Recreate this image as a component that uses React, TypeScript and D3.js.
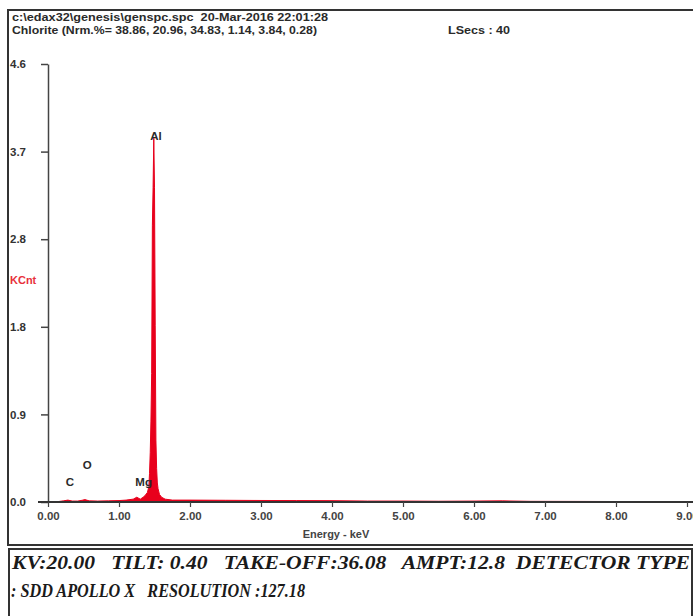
import { useEffect, useRef } from "react";
import * as d3 from "d3";

// spectrum (energy in keV, counts in KCnt)
const energies = [
    0.05, 0.15, 0.22, 0.28, 0.34, 0.42, 0.48, 0.52, 0.58, 0.7, 0.85, 1.0, 1.1, 1.2, 1.25, 1.3,
    1.34, 1.37, 1.4, 1.42, 1.43, 1.44, 1.45, 1.46, 1.47, 1.48, 1.49, 1.5, 1.51, 1.52, 1.53,
    1.54, 1.55, 1.57, 1.6, 1.65, 1.75, 2.0, 2.5, 3.0, 3.5, 4.0, 4.5, 5.0, 5.5, 6.0, 6.4, 6.8,
    7.5, 8.0, 8.5, 9.0,
];
const counts = [
    0.0, 0.005, 0.012, 0.02, 0.01, 0.01, 0.018, 0.025, 0.012, 0.01, 0.012, 0.015, 0.02,
    0.03, 0.05, 0.03, 0.05, 0.07, 0.1, 0.16, 0.3, 0.52, 0.85, 1.35, 2.9, 3.3, 3.82, 3.3, 1.85,
    0.65, 0.35, 0.2, 0.14, 0.08, 0.05, 0.03, 0.02, 0.02, 0.018, 0.016, 0.015, 0.014, 0.01,
    0.01, 0.008, 0.01, 0.012, 0.007, 0.006, 0.005, 0.004, 0.003,
];

const elementNames = ["C", "O", "Mg", "Al"];
const elementEnergies = [0.25, 0.49, 1.23, 1.44];
const elementHeights = [0.17, 0.35, 0.17, 3.8];

const yTicks = [0, 0.92, 1.84, 2.76, 3.68, 4.6];
const xTicks = [0, 1, 2, 3, 4, 5, 6, 7, 8, 9];

const headerLine1 = "c:\\edax32\\genesis\\genspc.spc  20-Mar-2016 22:01:28";
const headerLine2 = "Chlorite (Nrm.%= 38.86, 20.96, 34.83, 1.14, 3.84, 0.28)";
const lsecs = "LSecs : 40";
const infoLine1 = "KV:20.00   TILT: 0.40   TAKE-OFF:36.08   AMPT:12.8  DETECTOR TYPE";
const infoLine2 = ": SDD APOLLO X   RESOLUTION :127.18";

const sans = "Arial, 'Liberation Sans', sans-serif";

function App() {
    const svgRef = useRef();

    useEffect(() => {
        const Width = 693;
        const svg = d3.select(svgRef.current);
        svg.selectAll("*").remove();

        const xScale = d3.scaleLinear().domain([0, 9]).range([48, 687]);
        const yScale = d3.scaleLinear().domain([0, 4.6]).range([502, 64]);

        // frames
        svg.append("rect")
            .attr("x", 8).attr("y", 10)
            .attr("width", Width).attr("height", 535)
            .attr("fill", "white").attr("stroke", "#333").attr("stroke-width", 2);
        svg.append("rect")
            .attr("x", 9).attr("y", 549)
            .attr("width", 683).attr("height", 80)
            .attr("fill", "white").attr("stroke", "#333").attr("stroke-width", 2);

        // header texts
        const head = svg.append("g")
            .style("font-family", sans)
            .style("font-weight", "bold")
            .style("font-size", "11px")
            .attr("fill", "#2a2a2a");
        head.append("text").attr("x", 12).attr("y", 21)
            .attr("xml:space", "preserve")
            .attr("textLength", 316).attr("lengthAdjust", "spacingAndGlyphs")
            .text(headerLine1);
        head.append("text").attr("x", 12).attr("y", 34)
            .attr("textLength", 305).attr("lengthAdjust", "spacingAndGlyphs")
            .text(headerLine2);
        head.append("text").attr("x", 448).attr("y", 34)
            .attr("textLength", 62).attr("lengthAdjust", "spacingAndGlyphs")
            .text(lsecs);

        // spectrum
        const data = energies.map((e, i) => ({ e, c: counts[i] }));
        const area = d3.area()
            .x((d) => xScale(d.e))
            .y0(yScale(0))
            .y1((d) => yScale(d.c));
        svg.append("path")
            .datum(data)
            .attr("d", area)
            .attr("fill", "#e8001c")
            .attr("stroke", "#e8001c")
            .attr("stroke-width", 1);

        // y axis
        const yAxis = svg.append("g")
            .attr("transform", "translate(48,0)")
            .call(d3.axisLeft(yScale).tickValues(yTicks).tickSize(7).tickSizeOuter(0)
                .tickFormat((d) => d.toFixed(1)));
        yAxis.select(".domain").attr("stroke", "#444").attr("stroke-width", 1.5);
        yAxis.selectAll(".tick line").attr("stroke", "#444").attr("stroke-width", 1.5);
        yAxis.selectAll(".tick text")
            .attr("x", -38).attr("text-anchor", "start")
            .attr("fill", "#333")
            .style("font-size", "11.5px").style("font-weight", "bold")
            .style("font-family", sans);

        // x axis
        svg.append("line")
            .attr("x1", 38).attr("x2", Width)
            .attr("y1", yScale(0)).attr("y2", yScale(0))
            .attr("stroke", "#333").attr("stroke-width", 2);
        const xAxis = svg.append("g")
            .attr("transform", "translate(0," + yScale(0) + ")")
            .call(d3.axisBottom(xScale).tickValues(xTicks).tickSize(5).tickSizeOuter(0)
                .tickFormat((d) => d.toFixed(2)));
        xAxis.select(".domain").remove();
        xAxis.selectAll(".tick line").attr("stroke", "#444").attr("stroke-width", 1.2);
        xAxis.selectAll(".tick text")
            .attr("y", 10)
            .attr("fill", "#444")
            .style("font-size", "11.5px").style("font-weight", "bold")
            .style("font-family", sans);

        // axis labels
        svg.append("text")
            .attr("x", 336).attr("y", 538)
            .attr("text-anchor", "middle")
            .attr("fill", "#444")
            .style("font-size", "11px").style("font-weight", "bold")
            .style("font-family", sans)
            .text("Energy - keV");
        svg.append("text")
            .attr("x", 10).attr("y", 284)
            .attr("fill", "#e8303a")
            .style("font-size", "11px").style("font-weight", "bold")
            .style("font-family", sans)
            .text("KCnt");

        // element labels
        svg.append("g")
            .selectAll("text")
            .data(elementNames)
            .join("text")
            .attr("x", (d, i) => xScale(elementEnergies[i]))
            .attr("y", (d, i) => yScale(elementHeights[i]))
            .attr("fill", "#2a2a2a")
            .style("font-size", "11.5px").style("font-weight", "bold")
            .style("font-family", sans)
            .text((d) => d);

        // acquisition info
        const info = svg.append("g")
            .style("font-family", "'Liberation Serif', 'Times New Roman', serif")
            .style("font-weight", "bold")
            .style("font-style", "italic")
            .style("font-size", "19.5px")
            .attr("fill", "#1a1a1a");
        info.append("text").attr("x", 12).attr("y", 569)
            .attr("xml:space", "preserve")
            .attr("textLength", 678).attr("lengthAdjust", "spacingAndGlyphs")
            .text(infoLine1);
        info.append("text").attr("x", 11).attr("y", 597)
            .attr("xml:space", "preserve")
            .attr("textLength", 294).attr("lengthAdjust", "spacingAndGlyphs")
            .text(infoLine2);
    }, []);

    return (
        <svg
            ref={svgRef}
            width={693}
            height={616}
            style={{ position: "absolute", left: 0, top: 0, display: "block", background: "white" }}
        ></svg>
    );
}

export default App;
